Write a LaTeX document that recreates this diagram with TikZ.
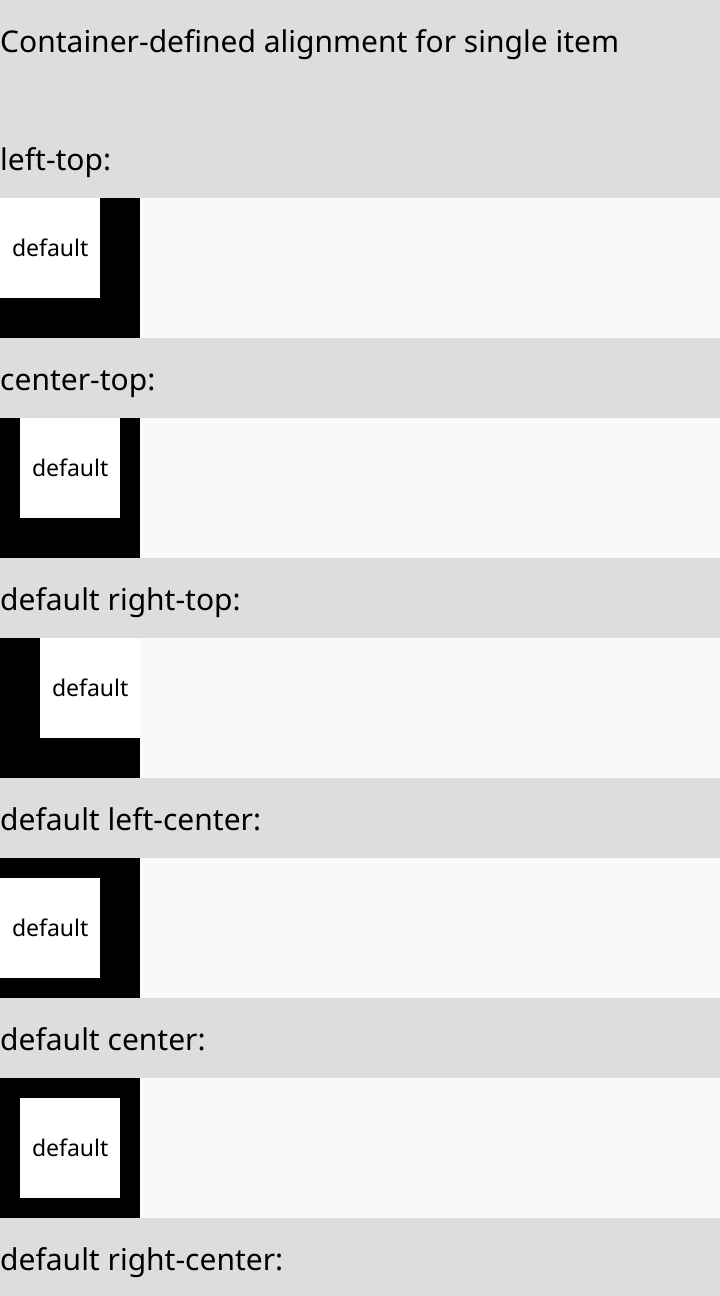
\documentclass[tikz,border=0pt]{standalone}
\usepackage{fontspec}
\setmainfont{Noto Sans}
\definecolor{PageGray}{HTML}{DDDDDD}
\definecolor{RowGray}{HTML}{F9F9F9}
\usetikzlibrary{positioning}

\begin{document}
\begin{tikzpicture}[x=1pt, y=-1pt,
    row/.style={fill=RowGray, anchor=north west, inner sep=0pt,
                minimum width=720pt, minimum height=140pt},
    holder/.style={fill=black, anchor=north west, inner sep=0pt,
                   minimum size=140pt},
    item/.style={fill=white, anchor=north west, inner sep=0pt,
                 minimum size=100pt, font=\fontsize{23}{27}\selectfont},
    caption/.style={anchor=base west, inner sep=0pt,
                    font=\fontsize{30}{35}\selectfont}]
  \fill[PageGray] (0,0) rectangle (720,1296);
  \useasboundingbox (0,0) rectangle (720,1296);

  % Heading
  \node[caption] (title) at (0,52) {Container-defined alignment for single item};

  % left-top
  \node[caption] (lt) at (0,170) {left-top:};
  \node[row] (rowlt) at (0,198) {};
  \node[holder] (boxlt) at (0,198) {};
  \node[item] (itemlt) at (0,198) {default};

  % center-top
  \node[caption] (ct) at (0,390) {center-top:};
  \node[row] (rowct) at (0,418) {};
  \node[holder] (boxct) at (0,418) {};
  \node[item] (itemct) at (20,418) {default};

  % right-top
  \node[caption] (rt) at (0,610) {default right-top:};
  \node[row] (rowrt) at (0,638) {};
  \node[holder] (boxrt) at (0,638) {};
  \node[item] (itemrt) at (40,638) {default};

  % left-center
  \node[caption] (lc) at (0,830) {default left-center:};
  \node[row] (rowlc) at (0,858) {};
  \node[holder] (boxlc) at (0,858) {};
  \node[item] (itemlc) at (0,878) {default};

  % center
  \node[caption] (cc) at (0,1050) {default center:};
  \node[row] (rowcc) at (0,1078) {};
  \node[holder] (boxcc) at (0,1078) {};
  \node[item] (itemcc) at (20,1098) {default};

  % right-center
  \node[caption] (rc) at (0,1270) {default right-center:};
\end{tikzpicture}
\end{document}
